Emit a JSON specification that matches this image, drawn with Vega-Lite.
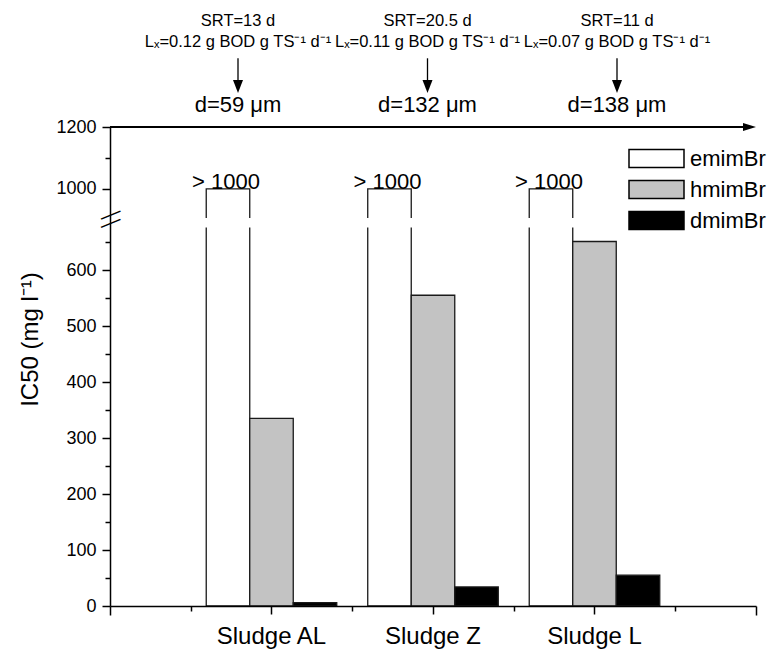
{
  "$schema": "https://vega.github.io/schema/vega-lite/v6.json",
  "width": 646,
  "height": 479,
  "autosize": {"type": "none"},
  "padding": {"left": 110, "top": 127, "right": 25, "bottom": 44},
  "background": "white",
  "config": {
    "view": {"stroke": null},
    "font": "Liberation Sans",
    "axis": {"labelFont": "Liberation Sans", "titleFont": "Liberation Sans", "domainColor": "black", "tickColor": "black", "labelColor": "black", "titleColor": "black", "grid": false},
    "legend": {"labelFont": "Liberation Sans", "labelColor": "black"},
    "text": {"font": "Liberation Sans", "color": "black"}
  },
  "data": {"values": [{"k": 1}]},
  "datasets": {
    "bars": [
      {"group": "Sludge AL", "series": "emimBr", "value": 1000},
      {"group": "Sludge AL", "series": "hmimBr", "value": 335},
      {"group": "Sludge AL", "series": "dmimBr", "value": 6},
      {"group": "Sludge Z", "series": "emimBr", "value": 1000},
      {"group": "Sludge Z", "series": "hmimBr", "value": 555},
      {"group": "Sludge Z", "series": "dmimBr", "value": 34},
      {"group": "Sludge L", "series": "emimBr", "value": 1000},
      {"group": "Sludge L", "series": "hmimBr", "value": 651},
      {"group": "Sludge L", "series": "dmimBr", "value": 55}
    ],
    "ann": [
      {"group": "Sludge AL", "srt": "SRT=13 d", "lx": "Lₓ=0.12 g BOD g TS⁻¹ d⁻¹", "d": "d=59 μm"},
      {"group": "Sludge Z", "srt": "SRT=20.5 d", "lx": "Lₓ=0.11 g BOD g TS⁻¹ d⁻¹", "d": "d=132 μm"},
      {"group": "Sludge L", "srt": "SRT=11 d", "lx": "Lₓ=0.07 g BOD g TS⁻¹ d⁻¹", "d": "d=138 μm"}
    ]
  },
  "layer": [
    {
      "data": {"name": "bars"},
      "mark": {"type": "bar", "stroke": "#1a1a1a", "strokeWidth": 1.3},
      "encoding": {
        "x": {"field": "group", "type": "nominal", "scale": {"domain": ["Sludge AL", "Sludge Z", "Sludge L"], "paddingInner": 0, "paddingOuter": 0.5},
              "axis": {"title": null, "labelAngle": 0, "labelFontSize": 24, "labelPadding": 10, "tickSize": 8, "tickWidth": 1.5, "domainWidth": 1.5, "zindex": 1}},
        "xOffset": {"field": "series", "type": "nominal", "scale": {"domain": ["emimBr", "hmimBr", "dmimBr"], "paddingInner": 0, "paddingOuter": 0.356}},
        "y": {"field": "value", "type": "quantitative",
              "scale": {"domain": [0, 676, 906, 1200], "range": [479, 100.5, 91, 0], "nice": false, "zero": false},
              "axis": {"orient": "left", "values": [0, 100, 200, 300, 400, 500, 600, 1000, 1200], "format": "d", "title": "IC50 (mg l⁻¹)", "titleFontSize": 24, "titleFontWeight": "normal", "titleX": -73, "titleY": 212, "titleAngle": 270, "titleAlign": "center", "titleBaseline": "alphabetic", "labelFontSize": 18, "labelPadding": 6, "tickSize": 8, "tickWidth": 1.5, "domainWidth": 1.5, "zindex": 1, "labelOverlap": false}},
        "fill": {"field": "series", "type": "nominal", "scale": {"domain": ["emimBr", "hmimBr", "dmimBr"], "range": ["#ffffff", "#c3c3c3", "#000000"]},
                 "legend": {"title": null, "orient": "none", "legendX": 534.5, "legendY": 19.5, "symbolType": "M-2.5,-0.82H2.5V0.82H-2.5Z", "symbolSize": 484, "symbolStrokeColor": "black", "symbolStrokeWidth": 1.5, "labelFontSize": 22, "labelOffset": 21.5, "rowPadding": 5, "padding": 0}}
      }
    },
    {
      "mark": {"type": "rect", "fill": "white"},
      "encoding": {
        "y": {"datum": 676, "axis": {"orient": "left", "values": [50, 150, 250, 350, 450, 550, 650, 1100], "labels": false, "tickSize": 5, "tickWidth": 1.5, "domain": false, "title": null, "zindex": 1}},
        "y2": {"datum": 906}
      }
    },
    {
      "data": {"name": "bars"},
      "transform": [{"filter": "datum.series === 'emimBr'"}],
      "mark": {"type": "text", "text": "> 1000", "fontSize": 22, "baseline": "alphabetic", "dx": -2},
      "encoding": {
        "x": {"field": "group", "type": "nominal", "scale": {"domain": ["Sludge AL", "Sludge Z", "Sludge L"], "paddingInner": 0, "paddingOuter": 0.5}, "axis": null},
        "xOffset": {"field": "series", "type": "nominal", "scale": {"domain": ["emimBr", "hmimBr", "dmimBr"], "paddingInner": 0, "paddingOuter": 0.356}},
        "y": {"field": "value", "type": "quantitative", "axis": null}
      }
    },
    {
      "mark": {"type": "rule", "strokeWidth": 2, "color": "black"},
      "encoding": {
        "x": {"datum": 0, "type": "quantitative", "scale": {"domain": [0, 8], "nice": false, "zero": false},
              "axis": {"orient": "bottom", "values": [0, 1, 3, 5, 7, 8], "labels": false, "domain": false, "title": null, "tickWidth": 1.5, "tickSize": {"condition": {"test": "datum.value == 0 || datum.value == 8", "value": 9}, "value": 5}}},
        "x2": {"datum": 7.85},
        "y": {"datum": 1200, "axis": null}
      }
    },
    {
      "mark": {"type": "point", "shape": "M-2,-0.6L0,0L-2,0.6Z", "size": 169, "filled": true, "color": "black", "opacity": 1, "strokeWidth": 0},
      "encoding": {
        "x": {"datum": 8, "type": "quantitative", "scale": {"domain": [0, 8], "nice": false, "zero": false}, "axis": null},
        "y": {"datum": 1200, "axis": null}
      }
    },
    {
      "mark": {"type": "rule", "opacity": 0},
      "encoding": {
        "y": {"datum": 680, "axis": {"orient": "left", "values": [680, 880], "labelExpr": "'—'", "labelAngle": -22, "labelAlign": "center", "labelBaseline": "middle", "labelPadding": 0, "labelOffset": -5, "ticks": true, "tickSize": 0, "tickOpacity": 0, "domain": false, "labelFontSize": 21, "title": null, "zindex": 2, "labelOverlap": false, "labelBound": false}}
      }
    },
    {
      "data": {"name": "ann"},
      "mark": {"type": "text", "fontSize": 16.5, "baseline": "alphabetic"},
      "encoding": {
        "x": {"field": "group", "type": "nominal", "scale": {"type": "point", "domain": ["Sludge AL", "Sludge Z", "Sludge L"], "range": [128, 507], "padding": 0}, "axis": null},
        "y": {"datum": 1526, "axis": null},
        "text": {"field": "srt"}
      }
    },
    {
      "data": {"name": "ann"},
      "mark": {"type": "text", "fontSize": 16.5, "baseline": "alphabetic"},
      "encoding": {
        "x": {"field": "group", "type": "nominal", "scale": {"type": "point", "domain": ["Sludge AL", "Sludge Z", "Sludge L"], "range": [128, 507], "padding": 0}, "axis": null},
        "y": {"datum": 1459, "axis": null},
        "text": {"field": "lx"}
      }
    },
    {
      "data": {"name": "ann"},
      "mark": {"type": "text", "fontSize": 22, "baseline": "alphabetic"},
      "encoding": {
        "x": {"field": "group", "type": "nominal", "scale": {"type": "point", "domain": ["Sludge AL", "Sludge Z", "Sludge L"], "range": [128, 507], "padding": 0}, "axis": null},
        "y": {"datum": 1248, "axis": null},
        "text": {"field": "d"}
      }
    },
    {
      "data": {"name": "ann"},
      "mark": {"type": "rule", "strokeWidth": 1.3, "color": "black"},
      "encoding": {
        "x": {"field": "group", "type": "nominal", "scale": {"type": "point", "domain": ["Sludge AL", "Sludge Z", "Sludge L"], "range": [128, 507], "padding": 0}, "axis": null},
        "y": {"datum": 1422, "axis": null},
        "y2": {"datum": 1338}
      }
    },
    {
      "data": {"name": "ann"},
      "mark": {"type": "point", "shape": "M-1,-1.3L1,-1.3L0,1.3Z", "size": 100, "filled": true, "color": "black", "opacity": 1, "strokeWidth": 0},
      "encoding": {
        "x": {"field": "group", "type": "nominal", "scale": {"type": "point", "domain": ["Sludge AL", "Sludge Z", "Sludge L"], "range": [128, 507], "padding": 0}, "axis": null},
        "y": {"datum": 1330.6, "axis": null}
      }
    }
  ],
  "resolve": {"scale": {"x": "independent"}, "axis": {"x": "independent", "y": "independent"}}
}
